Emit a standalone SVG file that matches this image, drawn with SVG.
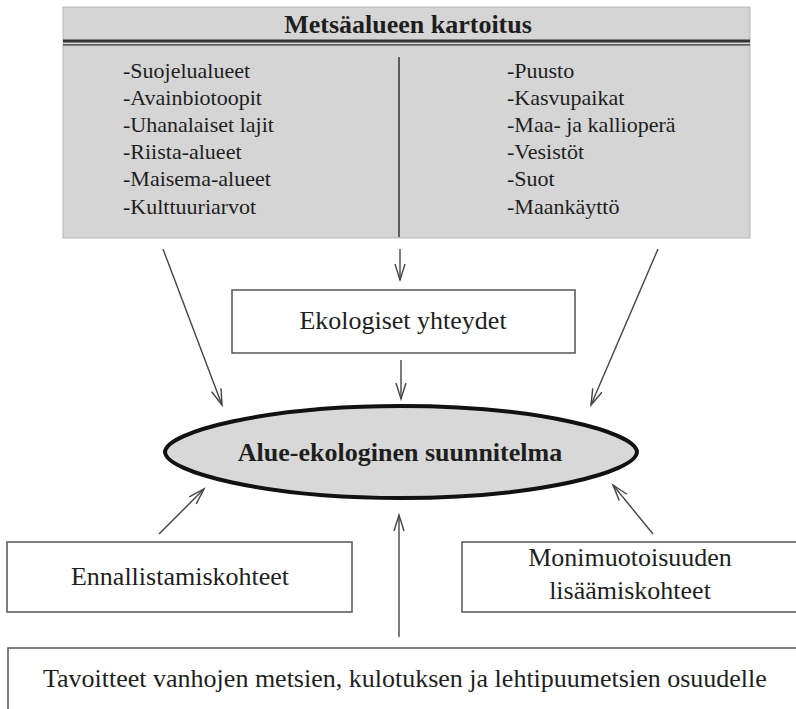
<svg xmlns="http://www.w3.org/2000/svg" width="796" height="709" viewBox="0 0 796 709">
<style>
text{font-family:"Liberation Serif","Times New Roman",serif;fill:#1e1e1e}
.t{font-size:26px}
.b{font-size:26px;font-weight:bold}
.li{font-size:22px}
.box{fill:#fff;stroke:#555;stroke-width:1.5}
.con{stroke:#444;stroke-width:1.4;fill:none}
</style>
<defs>
<marker id="ah" markerUnits="userSpaceOnUse" markerWidth="22" markerHeight="20" refX="18" refY="10" orient="auto" viewBox="0 0 22 20">
<path d="M2,5 L18,10 L2,15" fill="none" stroke="#444" stroke-width="1.4"/>
</marker>
</defs>

<g id="kartoitus">
<rect x="63" y="7" width="687" height="231" fill="#d5d5d5" stroke="#aaa" stroke-width="0.8"/>
<text class="b" x="408" y="33" text-anchor="middle">Metsäalueen kartoitus</text>
<line x1="63" y1="41" x2="750" y2="41" stroke="#333" stroke-width="3"/>
<line x1="63" y1="44.8" x2="750" y2="44.8" stroke="#333" stroke-width="1.3"/>
<line x1="399" y1="57" x2="399" y2="237" stroke="#333" stroke-width="1.5"/>
<text class="li" x="123" y="77.5">-Suojelualueet</text>
<text class="li" x="123" y="104.7">-Avainbiotoopit</text>
<text class="li" x="123" y="131.9">-Uhanalaiset lajit</text>
<text class="li" x="123" y="159.1">-Riista-alueet</text>
<text class="li" x="123" y="186.3">-Maisema-alueet</text>
<text class="li" x="123" y="213.5">-Kulttuuriarvot</text>
<text class="li" x="507" y="77.5">-Puusto</text>
<text class="li" x="507" y="104.7">-Kasvupaikat</text>
<text class="li" x="507" y="131.9">-Maa- ja kallioperä</text>
<text class="li" x="507" y="159.1">-Vesistöt</text>
<text class="li" x="507" y="186.3">-Suot</text>
<text class="li" x="507" y="213.5">-Maankäyttö</text>
</g>

<g id="ekologiset">
<rect class="box" x="232" y="290" width="343" height="63"/>
<text class="t" x="403" y="329" text-anchor="middle">Ekologiset yhteydet</text>
</g>

<g id="suunnitelma">
<path d="M165,452 C166,432 265,406 401,406 C537,406 636,432 637,452 C636,472 537,498 401,498 C265,498 166,472 165,452 Z" fill="#d8d8d8" stroke="#111" stroke-width="4"/>
<text class="b" x="400" y="461" text-anchor="middle">Alue-ekologinen suunnitelma</text>
</g>

<g id="ennallistaminen">
<rect class="box" x="7" y="542" width="345" height="70"/>
<text class="t" x="180" y="585" text-anchor="middle">Ennallistamiskohteet</text>
</g>

<g id="monimuotoisuus">
<rect class="box" x="462" y="542" width="340" height="70"/>
<text class="t" x="630" y="566" text-anchor="middle">Monimuotoisuuden</text>
<text class="t" x="630" y="599" text-anchor="middle">lisäämiskohteet</text>
</g>

<g id="tavoitteet">
<rect class="box" x="8" y="648" width="800" height="70"/>
<text class="t" x="43" y="687">Tavoitteet vanhojen metsien, kulotuksen ja lehtipuumetsien osuudelle</text>
</g>

<g id="connectors">
<line class="con" x1="400" y1="249" x2="400" y2="280" marker-end="url(#ah)"/>
<line class="con" x1="401" y1="360" x2="401" y2="399" marker-end="url(#ah)"/>
<line class="con" x1="163" y1="249" x2="222" y2="405" marker-end="url(#ah)"/>
<line class="con" x1="658" y1="249" x2="591" y2="405" marker-end="url(#ah)"/>
<line class="con" x1="159" y1="534" x2="204" y2="489" marker-end="url(#ah)"/>
<line class="con" x1="653" y1="534" x2="613" y2="485" marker-end="url(#ah)"/>
<line class="con" x1="399" y1="637" x2="399" y2="515" marker-end="url(#ah)"/>
</g>
</svg>
